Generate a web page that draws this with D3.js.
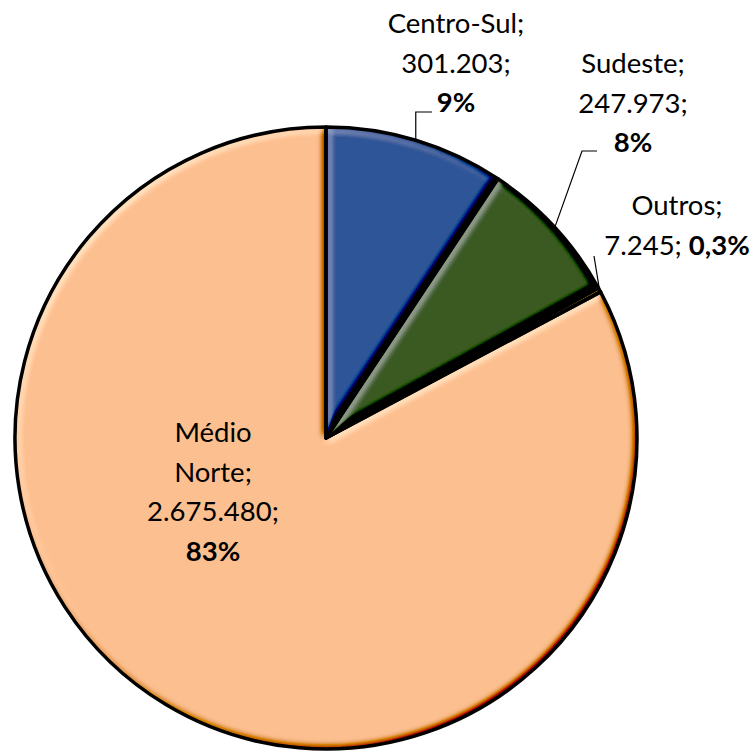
<!DOCTYPE html>
<html>
<head>
<meta charset="utf-8">
<script src="https://cdn.jsdelivr.net/npm/d3@7"></script>
<style>
  body { margin: 0; background: #fff; }
  text { font-family: Lato, "Open Sans", sans-serif; fill: #000; }
</style>
</head>
<body>
<svg width="756" height="751"></svg>
<script>
// Data
const categories = ["Centro-Sul", "Sudeste", "Outros", "Médio Norte"];
const values = [301203, 247973, 7245, 2675480];
const pctLabels = ["9%", "8%", "0,3%", "83%"];
const nameLines = [["Centro-Sul;"], ["Sudeste;"], ["Outros;"], ["Médio", "Norte;"]];

const COLORS = ["#2F5597", "#3A5A24", "#BF9000", "#FCBF8F"];

// Layout
const cx = 326, cy = 438, R = 311;
const FONT_SIZE = 27.5, LINE_H = 39.5;

// label placement relative to pie centre (first baseline, text centre)
const labelLayout = [
  { dx: 130, dy: -405, inlinePct: false, elbow: "vertical", endX: 106 },
  { dx: 307, dy: -365, inlinePct: false, elbow: [256, -287], endX: 271 },
  { dx: 351, dy: -223, inlinePct: true, elbow: [268, -182], endX: null },
  { dx: -113, dy: 4, inlinePct: false, elbow: null, endX: null }
];

const fmt = d3.formatLocale({ decimal: ",", thousands: ".", grouping: [3], currency: ["", ""] }).format(",");

var svg = d3.select("svg");

// bevel-ish shading filter
var defs = svg.append("defs");
var f = defs.append("filter").attr("id", "bevel")
  .attr("x", "-5%").attr("y", "-5%").attr("width", "110%").attr("height", "110%");
f.append("feGaussianBlur").attr("in", "SourceAlpha").attr("stdDeviation", 3.5).attr("result", "blur");
f.append("feDiffuseLighting").attr("in", "blur").attr("surfaceScale", 6)
  .attr("diffuseConstant", 1).attr("lighting-color", "#fff").attr("result", "light")
  .append("feDistantLight").attr("azimuth", 225).attr("elevation", 45);
f.append("feComposite").attr("in", "SourceGraphic").attr("in2", "light")
  .attr("operator", "arithmetic").attr("k1", 0).attr("k2", 1).attr("k3", 0.75).attr("k4", -0.53)
  .attr("result", "lit");
f.append("feComposite").attr("in", "lit").attr("in2", "SourceAlpha").attr("operator", "in");

var pie = d3.pie().sort(null).value(d => d.value).startAngle(0).endAngle(2 * Math.PI);
var data = categories.map((c, i) => ({ name: c, value: values[i], i: i }));
var arcs = pie(data);

var arc = d3.arc().innerRadius(0).outerRadius(R);

var g = svg.append("g").attr("transform", `translate(${cx},${cy})`);

// fills
g.selectAll("path.fill")
  .data(arcs)
  .enter().append("path")
  .attr("class", "fill")
  .attr("d", arc)
  .attr("fill", d => COLORS[d.data.i])
  .attr("filter", "url(#bevel)");

// outlines
g.selectAll("path.edge")
  .data(arcs)
  .enter().append("path")
  .attr("class", "edge")
  .attr("d", arc)
  .attr("fill", "none")
  .attr("stroke", "#000")
  .attr("stroke-width", 3.5)
  .attr("stroke-linejoin", "round");

// leader lines
arcs.forEach(function (d) {
  var L = labelLayout[d.data.i];
  if (!L.elbow) return;
  var a = (d.startAngle + d.endAngle) / 2;
  var sx = Math.sin(a) * R, sy = -Math.cos(a) * R;
  var pts = [[sx, sy]];
  if (L.elbow === "vertical") {
    var lastY = L.dy + LINE_H * 2;
    pts.push([sx, lastY]);
    pts.push([L.endX, lastY]);
  } else {
    pts.push(L.elbow);
    if (L.endX !== null) pts.push([L.endX, L.elbow[1]]);
  }
  g.append("path")
    .attr("d", d3.line()(pts))
    .attr("fill", "none")
    .attr("stroke", "#000")
    .attr("stroke-width", 1.2);
});

// labels
arcs.forEach(function (d) {
  var i = d.data.i;
  var L = labelLayout[i];
  var lines = nameLines[i].map(t => [[t, false]]);
  if (L.inlinePct) {
    lines.push([[fmt(values[i]) + "; ", false], [pctLabels[i], true]]);
  } else {
    lines.push([[fmt(values[i]) + ";", false]]);
    lines.push([[pctLabels[i], true]]);
  }
  var t = g.append("text")
    .attr("text-anchor", "middle")
    .attr("font-size", FONT_SIZE);
  lines.forEach(function (segs, k) {
    segs.forEach(function (s, j) {
      var ts = t.append("tspan").text(s[0]).attr("font-weight", s[1] ? "bold" : "normal");
      if (j === 0) ts.attr("x", L.dx).attr("y", L.dy + k * LINE_H);
    });
  });
});
</script>
</body>
</html>
